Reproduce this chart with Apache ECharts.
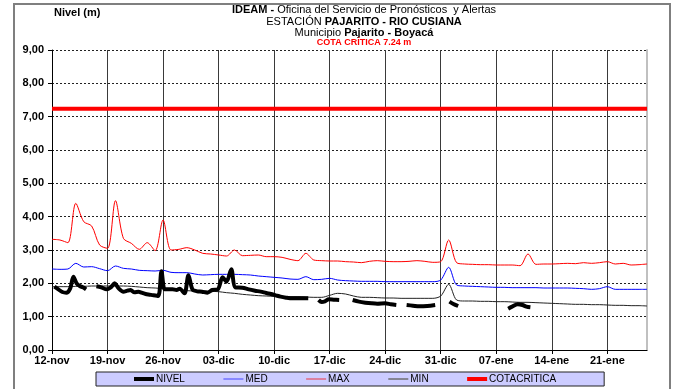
<!DOCTYPE html>
<html>
<head>
<meta charset="utf-8">
<script src="https://cdn.jsdelivr.net/npm/echarts@6/dist/echarts.min.js"></script>
<style>
html,body{margin:0;padding:0;background:#fff;}
#c{width:677px;height:389px;}
</style>
</head>
<body>
<div id="c"></div>
<script>
// x tick labels (every 7 days starting 12-nov)
var tickLabels = ['12-nov','19-nov','26-nov','03-dic','10-dic','17-dic','24-dic','31-dic','07-ene','14-ene','21-ene'];
// daily series (day 0 = 12-nov ... day 75)
var maxVals = [3.32,3.30,3.22,4.40,3.85,3.72,3.15,3.05,4.48,3.35,
  3.20,3.02,3.22,2.98,3.90,3.00,3.02,3.07,3.00,2.90,
  2.88,2.85,2.82,3.00,2.83,2.84,2.85,2.80,2.80,2.78,
  2.72,2.68,2.90,2.70,2.68,2.67,2.67,2.65,2.64,2.62,
  2.66,2.68,2.66,2.65,2.65,2.66,2.68,2.66,2.63,2.65,
  3.30,2.62,2.58,2.57,2.56,2.56,2.55,2.55,2.55,2.53,
  2.88,2.57,2.58,2.58,2.59,2.60,2.59,2.62,2.60,2.62,
  2.65,2.58,2.60,2.55,2.56,2.58];
var medVals = [2.43,2.42,2.43,2.60,2.49,2.50,2.44,2.38,2.52,2.45,
  2.43,2.39,2.38,2.37,2.39,2.33,2.32,2.32,2.28,2.25,
  2.26,2.27,2.27,2.27,2.26,2.25,2.22,2.20,2.18,2.16,
  2.13,2.12,2.20,2.11,2.12,2.15,2.10,2.08,2.07,2.06,
  2.06,2.06,2.05,2.05,2.05,2.05,2.05,2.05,2.05,2.10,
  2.48,1.95,1.92,1.91,1.90,1.89,1.88,1.88,1.87,1.87,
  1.87,1.87,1.86,1.86,1.86,1.86,1.85,1.84,1.82,1.84,
  1.90,1.82,1.82,1.82,1.82,1.82];
var minVals = [1.90,1.90,1.90,1.91,1.91,1.92,1.92,1.92,1.92,1.92,
  1.91,1.89,1.87,1.86,1.84,1.81,1.79,1.78,1.77,1.77,
  1.76,1.75,1.72,1.70,1.67,1.65,1.63,1.62,1.61,1.60,
  1.60,1.60,1.59,1.58,1.58,1.64,1.70,1.68,1.62,1.58,
  1.58,1.57,1.56,1.56,1.55,1.55,1.55,1.55,1.55,1.62,
  1.97,1.50,1.47,1.47,1.46,1.46,1.45,1.45,1.44,1.43,
  1.43,1.42,1.41,1.40,1.39,1.38,1.37,1.37,1.36,1.36,
  1.35,1.34,1.34,1.33,1.33,1.32];
// observed level (irregular times in days from 12-nov, null = no data)
var nivelT = [0.3,0.8,1.3,1.8,2.3,2.7,3.1,3.5,3.9,4.3,4.9,
  5.6,6.2,6.9,7.4,7.9,8.4,9.0,9.5,9.9,10.4,10.9,11.3,11.8,12.3,12.8,13.4,13.8,14.2,14.7,15.2,15.7,16.1,16.7,17.2,17.7,18.3,18.9,19.6,20.2,20.9,21.5,22.0,22.6,23.1,24.0,24.8,25.6,26.3,27.0,27.6,28.2,28.8,29.5,30.3,31.2,32.3,33.0,
  33.6,34.0,34.4,34.9,35.5,36.2,37.0,
  37.9,38.7,39.5,40.3,41.0,42.0,42.7,43.4,44.0,
  44.7,45.5,46.3,47.3,48.3,49.5,
  50.1,50.6,51.2,54.0,
  57.5,58.0,58.7,59.3,59.8,60.3];
var nivelV = [1.90,1.82,1.74,1.72,1.85,2.20,2.00,1.92,1.88,1.82,null,
  1.91,1.88,1.82,1.88,2.00,1.85,1.75,1.78,1.80,1.73,1.75,1.72,1.68,1.66,1.64,1.62,2.36,1.82,1.82,1.82,1.80,1.84,1.70,2.24,1.82,1.76,1.75,1.72,1.80,1.82,2.18,2.05,2.42,1.88,1.87,1.82,1.78,1.75,1.71,1.68,1.64,1.60,1.57,1.55,1.55,1.55,null,
  1.50,1.44,1.46,1.52,1.51,1.50,null,
  1.50,1.45,1.42,1.40,1.39,1.40,1.37,1.35,null,
  1.35,1.33,1.31,1.32,1.35,null,
  1.45,1.38,1.32,null,
  1.24,1.30,1.37,1.35,1.30,1.28];
var cotaT = [0, 75];
var cotaV = [7.24, 7.24];

function pairs(ts, vs){ return ts.map(function(t,i){ return [t, vs[i] === null ? '-' : vs[i]]; }); }
var days = maxVals.map(function(_, i){ return i; });

var THICK = 'path://M0,0H20V4H0Z';
var THIN = 'path://M0,0M20,4M0,1.3H20V2.7H0Z';
var FONT = '"Liberation Sans", Arial, sans-serif';
var chart = echarts.init(document.getElementById('c'), null, {renderer:'canvas'});
chart.setOption({
  animation: false,
  backgroundColor: '#fff',
  textStyle: {fontFamily: FONT},
  graphic: [
    {type:'rect', shape:{x:14, y:4, width:656, height:390}, style:{fill:null, stroke:'#7f7f7f', lineWidth:2}, z:-1},
    {type:'text', x:54, y:13, style:{text:'Nivel (m)', font:'bold 11px '+FONT, fill:'#000', verticalAlign:'middle'}},
    {type:'text', x:364, y:10, style:{text:'{b|IDEAM -} Oficina del Servicio de Pronósticos  y Alertas', font:'11px '+FONT, fill:'#000', align:'center', verticalAlign:'middle', rich:{b:{fontWeight:'bold', fontSize:11, fontFamily:FONT}}}},
    {type:'text', x:364, y:22, style:{text:'ESTACIÓN {b|PAJARITO - RIO CUSIANA}', font:'11px '+FONT, fill:'#000', align:'center', verticalAlign:'middle', rich:{b:{fontWeight:'bold', fontSize:11, fontFamily:FONT}}}},
    {type:'text', x:364, y:33, style:{text:'Municipio {b|Pajarito - Boyacá}', font:'11px '+FONT, fill:'#000', align:'center', verticalAlign:'middle', rich:{b:{fontWeight:'bold', fontSize:11, fontFamily:FONT}}}},
    {type:'text', x:364, y:43, style:{text:'COTA CRÍTICA 7.24 m', font:'bold 9px '+FONT, fill:'#ff0000', align:'center', verticalAlign:'middle'}}
  ],
  legend: {
    left: 96, top: 372,
    padding: [2, 48, 2, 38],
    itemGap: 38.5, itemWidth: 20, itemHeight: 4,
    backgroundColor: '#ccccff', borderColor: '#222', borderWidth: 1, borderRadius: 0,
    textStyle: {fontSize: 10, color: '#000', fontFamily: FONT, padding:[0,0,0,-3]},
    data: [
      {name:'NIVEL', icon: THICK, itemStyle:{color:'#000'}},
      {name:'MED', icon: THIN, itemStyle:{color:'#6a6aff'}},
      {name:'MAX', icon: THIN, itemStyle:{color:'#e06078'}},
      {name:'MIN', icon: THIN, itemStyle:{color:'#666'}},
      {name:'COTACRITICA', icon: THICK, itemStyle:{color:'#ff0000'}}
    ]
  },
  grid: {left: 52, top: 50, width: 595, height: 300, containLabel: false},
  xAxis: {
    type: 'value', min: 0, max: 75, interval: 7,
    axisLine: {show: true, onZero: false, lineStyle: {color: '#000', width: 1}},
    axisTick: {show: true, length: 4, lineStyle: {color: '#000'}},
    axisLabel: {
      margin: 5, fontSize: 11, fontWeight: 'bold', color: '#000', fontFamily: FONT,
      showMaxLabel: false,
      formatter: function(v){ return (v % 7 === 0 && tickLabels[v/7]) ? tickLabels[v/7] : ''; }
    },
    splitLine: {show: true, lineStyle: {color: '#3a3a3a', width: 1, type: 'solid'}}
  },
  yAxis: [{
    type: 'value', min: 0, max: 9, interval: 1,
    axisLine: {show: true, lineStyle: {color: '#000', width: 1}},
    axisTick: {show: true, length: 4, lineStyle: {color: '#000'}},
    axisLabel: {margin: 8, fontSize: 11, fontWeight: 'bold', color: '#000', fontFamily: FONT,
      formatter: function(v){ return v.toFixed(2).replace('.', ','); }},
    splitLine: {show: true, lineStyle: {color: '#222', width: 1, type: [2, 2]}}
  }, {
    type: 'value', min: 0, max: 9, interval: 1, position: 'right',
    axisLine: {show: true, lineStyle: {color: '#c0c0c0', width: 2}},
    axisTick: {show: false}, axisLabel: {show: false}, splitLine: {show: false}
  }],
  series: [
    {name:'NIVEL', type:'line', data: pairs(nivelT, nivelV), symbol:'none', smooth:0.3, connectNulls:false,
      lineStyle:{color:'#000', width:4}, itemStyle:{color:'#000'}, z:5},
    {name:'MED', type:'line', data: pairs(days, medVals), symbol:'none', smooth:0.3,
      lineStyle:{color:'#0000ff', width:1}, itemStyle:{color:'#6a6aff'}, z:3},
    {name:'MAX', type:'line', data: pairs(days, maxVals), symbol:'none', smooth:0.3,
      lineStyle:{color:'#ff0000', width:1}, itemStyle:{color:'#e06078'}, z:3},
    {name:'MIN', type:'line', data: pairs(days, minVals), symbol:'none', smooth:0.3,
      lineStyle:{color:'#222', width:1}, itemStyle:{color:'#666'}, z:3},
    {name:'COTACRITICA', type:'line', data: pairs(cotaT, cotaV), symbol:'none',
      lineStyle:{color:'#ff0000', width:4}, itemStyle:{color:'#ff0000'}, z:4}
  ]
});
</script>
</body>
</html>
